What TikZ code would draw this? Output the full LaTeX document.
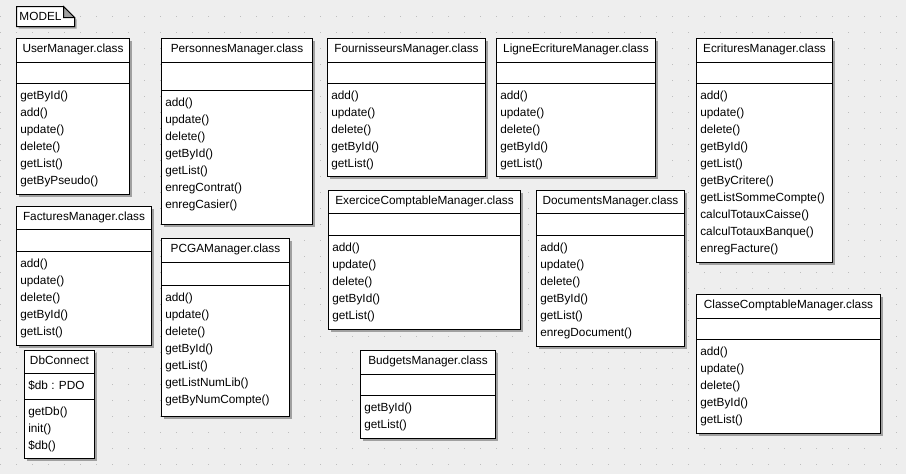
\documentclass[tikz,border=0pt]{standalone}
\usepackage{fontspec}
\setmainfont{Liberation Sans}
\usetikzlibrary{shadows}
\definecolor{bgc}{HTML}{EEEEEE}
\definecolor{dotc}{HTML}{BDBDBD}
\definecolor{shc}{HTML}{A0A0A0}
\tikzset{
  umlbox/.style={draw=black, fill=white, line width=1pt, inner sep=0pt, outer sep=0pt,
    drop shadow={shadow xshift=2pt, shadow yshift=-2pt, fill=shc, opacity=1}},
  sepline/.style={draw=black, line width=1pt},
  umltext/.style={font=\fontsize{11.8}{14}\selectfont, inner sep=0pt, outer sep=0pt, text=black},
}
% #1 name, #2 left, #3 top, #4 right, #5 bottom, #6 line1, #7 line2, #8 title, #9 methods
\newcommand\classbox[9]{%
  \pgfmathsetmacro\bw{#4-#2}%
  \pgfmathsetmacro\bh{#5-#3}%
  \node[umlbox, minimum width=\bw pt, minimum height=\bh pt, anchor=north west] (#1) at (#2,#3) {};
  \draw[sepline] (#1.west |- 0,#6) -- (#1.east |- 0,#6);
  \draw[sepline] (#1.west |- 0,#7) -- (#1.east |- 0,#7);
  \node[umltext, anchor=base] (#1-t) at ({(#2+#4)/2},{#3+14.3}) {#8};
  \foreach \m [count=\i] in {#9} {
    \node[umltext, anchor=base west] (#1-m\i) at ({#2+3.8},{#7+15.5+17*(\i-1)}) {\m};
  }
}
\begin{document}
\begin{tikzpicture}[x=1pt,y=-1pt]
\useasboundingbox (0,0) rectangle (906,474);
\fill[bgc] (0,0) rectangle (906,474);
\foreach \i in {0,...,56} \foreach \j in {1,...,29} \fill[dotc] (16*\i,16*\j) rectangle ++(1,1);

% note
\begin{scope}[shift={(2,2)}]
  \fill[shc] (16.5,6.5) -- (63.5,6.5) -- (74.5,17.5) -- (74.5,26.5) -- (16.5,26.5) -- cycle;
\end{scope}
\draw[line width=1pt, fill=white] (16.5,6.5) -- (63.5,6.5) -- (74.5,17.5) -- (74.5,26.5) -- (16.5,26.5) -- cycle;
\draw[line width=1pt, fill=shc] (63.5,6.5) -- (63.5,17.5) -- (74.5,17.5) -- cycle;
\node[umltext, anchor=base west] (model) at (19.5,20.7) {MODEL};

\classbox{user}{16.5}{38.5}{129.5}{194.5}{62.5}{83.5}{UserManager.class}{getById(),add(),update(),delete(),getList(),getByPseudo()}
\classbox{factures}{16.5}{206.5}{151.5}{345.5}{229.5}{251.5}{FacturesManager.class}{add(),update(),delete(),getById(),getList()}
\classbox{db}{24.5}{350.5}{94.5}{458.5}{373.5}{399.5}{DbConnect}{getDb(),init(),\$db()}
\node[umltext, anchor=base west] (db-a1) at (28.3,389.5) {\$db : PDO};
\classbox{personnes}{161.5}{38.5}{312.5}{224.5}{62.5}{90.5}{PersonnesManager.class}{add(),update(),delete(),getById(),getList(),enregContrat(),enregCasier()}
\classbox{pcga}{161.5}{238.5}{289.5}{416.5}{262.5}{285.5}{PCGAManager.class}{add(),update(),delete(),getById(),getList(),getListNumLib(),getByNumCompte()}
\classbox{fourn}{327.5}{38.5}{485.5}{176.5}{62.5}{83.5}{FournisseursManager.class}{add(),update(),delete(),getById(),getList()}
\classbox{ligne}{496.5}{38.5}{655.5}{176.5}{62.5}{83.5}{LigneEcritureManager.class}{add(),update(),delete(),getById(),getList()}
\classbox{ecr}{696.5}{38.5}{832.5}{262.5}{62.5}{83.5}{EcrituresManager.class}{add(),update(),delete(),getById(),getList(),getByCritere(),getListSommeCompte(),calculTotauxCaisse(),calculTotauxBanque(),enregFacture()}
\classbox{exer}{328.5}{190.5}{520.5}{329.5}{213.5}{235.5}{ExerciceComptableManager.class}{add(),update(),delete(),getById(),getList()}
\classbox{docs}{536.5}{190.5}{684.5}{346.5}{213.5}{235.5}{DocumentsManager.class}{add(),update(),delete(),getById(),getList(),enregDocument()}
\classbox{budg}{360.5}{350.5}{495.5}{438.5}{374.5}{395.5}{BudgetsManager.class}{getById(),getList()}
\classbox{classe}{696.5}{294.5}{880.5}{433.5}{318.5}{339.5}{ClasseComptableManager.class}{add(),update(),delete(),getById(),getList()}
\end{tikzpicture}
\end{document}
